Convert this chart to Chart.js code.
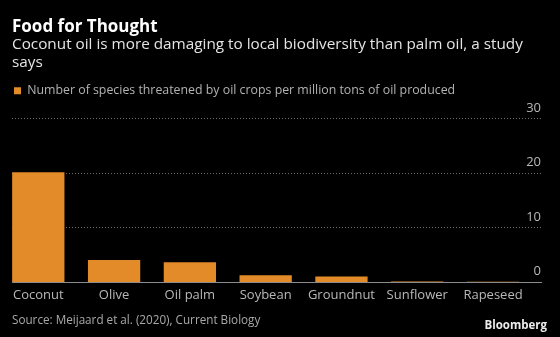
<!DOCTYPE html>
<html lang="en">
<head>
<meta charset="UTF-8">
<title>Food for Thought</title>
<script src="https://cdn.jsdelivr.net/npm/chart.js@4.4.0/dist/chart.umd.min.js"></script>
<style>
    html, body { margin: 0; padding: 0; background: #000; }
    #wrap { position: relative; width: 560px; height: 337px; }
    #source { position: absolute; left: 12px; top: 311px; font: 11.7px "Open Sans", sans-serif; color: #a9a9a9; }
    #brand { position: absolute; right: 13px; top: 317px; font: bold 11.5px "Open Sans", sans-serif; color: #ececec; }
</style>
</head>
<body>
<div id="wrap">
    <canvas id="chart" width="560" height="337"></canvas>
    <div id="source">Source: Meijaard et al. (2020), Current Biology</div>
    <div id="brand">Bloomberg</div>
</div>
<script>
    // data
    const crops = ['Coconut', 'Olive', 'Oil palm', 'Soybean', 'Groundnut', 'Sunflower', 'Rapeseed'];
    const species = [20.2, 4.1, 3.7, 1.3, 1.1, 0.15, 0.1];
    const yTicks = [0, 10, 20, 30];
    const seriesName = 'Number of species threatened by oil crops per million tons of oil produced';

    Chart.defaults.font.family = '"Open Sans", sans-serif';

    // push the plot down below the legend
    const legendGap = {
        id: 'legendGap',
        beforeInit(chart) {
            const fit = chart.legend.fit;
            chart.legend.fit = function () {
                fit.bind(chart.legend)();
                this.height += 12;
            };
        }
    };

    new Chart(document.getElementById('chart'), {
        type: 'bar',
        data: {
            datasets: [{
                label: seriesName,
                data: species.map((v, i) => ({x: i, y: v})),
                backgroundColor: '#e38b29',
                barPercentage: 0.69,
                categoryPercentage: 1
            }]
        },
        options: {
            responsive: false,
            animation: false,
            layout: {padding: {left: 12, right: 19, top: 0, bottom: 29}},
            plugins: {
                title: {
                    display: true,
                    text: 'Food for Thought',
                    align: 'start',
                    color: '#ffffff',
                    font: {size: 17, weight: 'bold', lineHeight: '16px'},
                    padding: {top: 19, bottom: 0}
                },
                subtitle: {
                    display: true,
                    text: ['Coconut oil is more damaging to local biodiversity than palm oil, a study', 'says'],
                    align: 'start',
                    color: '#e4e4e4',
                    font: {size: 15.3, lineHeight: '18.3px'},
                    padding: {top: 0, bottom: 11}
                },
                legend: {
                    align: 'start',
                    labels: {
                        boxWidth: 7,
                        boxHeight: 7,
                        padding: 2,
                        color: '#b3b3b3',
                        font: {size: 12.35}
                    }
                },
                tooltip: {enabled: false}
            },
            scales: {
                x: {
                    type: 'linear',
                    offset: false,
                    min: -0.347,
                    max: 6.633,
                    grid: {display: false, drawTicks: false},
                    border: {display: true, color: '#8c8c8c', width: 1},
                    afterBuildTicks: (s) => { s.ticks = crops.map((c, i) => ({value: i})); },
                    ticks: {
                        autoSkip: false,
                        maxRotation: 0,
                        padding: 5,
                        color: '#b8b8b8',
                        font: {size: 13},
                        callback: (v) => crops[v]
                    }
                },
                y: {
                    position: 'right',
                    min: 0,
                    max: 30,
                    afterBuildTicks: (s) => { s.ticks = yTicks.map(v => ({value: v})); },
                    grid: {
                        drawTicks: false,
                        color: (ctx) => ctx.tick && ctx.tick.value === 0 ? 'rgba(0,0,0,0)' : '#6e6e6e',
                        lineWidth: 1
                    },
                    border: {display: false, dash: [1, 2]},
                    ticks: {
                        mirror: true,
                        padding: 0,
                        labelOffset: -11,
                        color: '#b8b8b8',
                        font: {size: 13}
                    }
                }
            }
        },
        plugins: [legendGap]
    });
</script>
</body>
</html>
